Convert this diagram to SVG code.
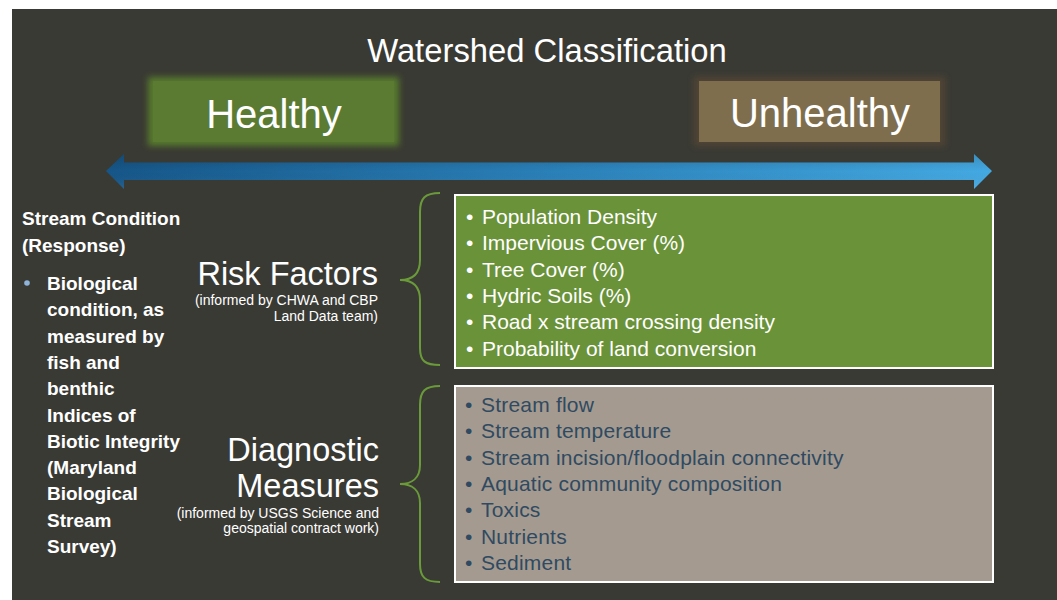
<svg xmlns="http://www.w3.org/2000/svg" width="1057" height="600" viewBox="0 0 1057 600">
<defs>
<style>
.t{font-family:"Liberation Sans",Arial,sans-serif;fill:#fff}
.lb{font-family:"Liberation Sans",Arial,sans-serif;font-weight:bold;font-size:19px;fill:#fff}
.big{font-family:"Liberation Sans",Arial,sans-serif;font-size:32.5px;fill:#fff;text-anchor:end}
.sm{font-family:"Liberation Sans",Arial,sans-serif;font-size:14px;fill:#fff;text-anchor:end}
.gl{font-family:"Liberation Sans",Arial,sans-serif;font-size:21px;fill:#fff}
.bl{font-family:"Liberation Sans",Arial,sans-serif;font-size:21px;fill:#2f4a62;letter-spacing:0.2px}
.brace{fill:none;stroke:#6a9a3a;stroke-width:2}
</style>
<linearGradient id="arrowGrad" x1="0" y1="0" x2="1" y2="0">
<stop offset="0" stop-color="#165688"/>
<stop offset="0.5" stop-color="#2a80b8"/>
<stop offset="1" stop-color="#44a9e2"/>
</linearGradient>
<linearGradient id="arrowShade" x1="0" y1="0" x2="0" y2="1">
<stop offset="0" stop-color="#000" stop-opacity="0.15"/>
<stop offset="0.5" stop-color="#000" stop-opacity="0"/>
<stop offset="1" stop-color="#fff" stop-opacity="0.08"/>
</linearGradient>
<filter id="glowG" x="-20%" y="-40%" width="140%" height="180%">
<feGaussianBlur stdDeviation="3"/>
</filter>
</defs>
<rect x="0" y="0" width="1057" height="600" fill="#fff"/>
<rect x="12" y="9" width="1045" height="591" fill="#3a3a34"/>

<text class="t" x="547" y="62" font-size="32.8" text-anchor="middle">Watershed Classification</text>

<g id="healthy">
<rect x="148" y="77" width="251" height="69" fill="#5d8a2c" opacity="0.8" filter="url(#glowG)"/>
<rect x="153" y="81" width="241" height="61" fill="#5b7b33"/>
<text class="t" x="274" y="128" font-size="40" text-anchor="middle">Healthy</text>
</g>

<g id="unhealthy">
<rect x="694" y="77" width="251" height="69" fill="#5a4a36" opacity="0.7" filter="url(#glowG)"/>
<rect x="699" y="81" width="241" height="61" fill="#7f6e4d"/>
<text class="t" x="820" y="127" font-size="40" text-anchor="middle">Unhealthy</text>
</g>

<g id="scale-arrow">
<path d="M106,171 L124,154 L124,162.5 L974,162.5 L974,154 L992,171 L974,189 L974,180 L124,180 L124,189 Z" fill="url(#arrowGrad)"/>
<path d="M106,171 L124,154 L124,162.5 L974,162.5 L974,154 L992,171 L974,189 L974,180 L124,180 L124,189 Z" fill="url(#arrowShade)"/>
</g>

<g id="stream-condition">
<text class="lb" x="22" y="225">Stream Condition</text>
<text class="lb" x="22" y="252">(Response)</text>
<circle cx="27" cy="283" r="2.8" fill="#8fb4da"/>
<text class="lb" x="47" y="290">Biological</text>
<text class="lb" x="47" y="316.3">condition, as</text>
<text class="lb" x="47" y="342.6">measured by</text>
<text class="lb" x="47" y="368.9">fish and</text>
<text class="lb" x="47" y="395.2">benthic</text>
<text class="lb" x="47" y="421.5">Indices of</text>
<text class="lb" x="47" y="447.8">Biotic Integrity</text>
<text class="lb" x="47" y="474.1">(Maryland</text>
<text class="lb" x="47" y="500.4">Biological</text>
<text class="lb" x="47" y="526.7">Stream</text>
<text class="lb" x="47" y="553">Survey)</text>
</g>

<g id="risk-factors-label">
<text class="big" x="378" y="285">Risk Factors</text>
<text class="sm" x="378" y="305">(informed by CHWA and CBP</text>
<text class="sm" x="378" y="321">Land Data team)</text>
</g>

<g id="diagnostic-label">
<text class="big" x="379" y="461">Diagnostic</text>
<text class="big" x="379" y="497">Measures</text>
<text class="sm" x="379" y="518">(informed by USGS Science and</text>
<text class="sm" x="379" y="533">geospatial contract work)</text>
</g>

<g id="connectors">
<path class="brace" d="M440,193 C425,193 420,198 420,212 L420,260 C420,274 412,280 400,280 C412,280 420,286 420,300 L420,348 C420,361 425,365 440,365"/>
<path class="brace" d="M440,386 C425,386 420,391 420,405 L420,465 C420,478 412,484 400,484 C412,484 420,490 420,503 L420,564 C420,577 425,582 440,582"/>
</g>

<g id="risk-factors-box">
<rect x="455" y="195" width="538" height="173" fill="#6a9239" stroke="#fff" stroke-width="2"/>
<g class="gl">
<text x="466" y="224">•</text><text x="482" y="224">Population Density</text>
<text x="466" y="250.3">•</text><text x="482" y="250.3">Impervious Cover (%)</text>
<text x="466" y="276.6">•</text><text x="482" y="276.6">Tree Cover (%)</text>
<text x="466" y="302.9">•</text><text x="482" y="302.9">Hydric Soils (%)</text>
<text x="466" y="329.2">•</text><text x="482" y="329.2">Road x stream crossing density</text>
<text x="466" y="355.5">•</text><text x="482" y="355.5">Probability of land conversion</text>
</g>
</g>

<g id="diagnostic-box">
<rect x="455" y="386" width="538" height="196" fill="#a59a8f" stroke="#fff" stroke-width="2"/>
<g class="bl">
<text x="465" y="412">•</text><text x="481" y="412">Stream flow</text>
<text x="465" y="438.3">•</text><text x="481" y="438.3">Stream temperature</text>
<text x="465" y="464.6">•</text><text x="481" y="464.6">Stream incision/floodplain connectivity</text>
<text x="465" y="490.9">•</text><text x="481" y="490.9">Aquatic community composition</text>
<text x="465" y="517.2">•</text><text x="481" y="517.2">Toxics</text>
<text x="465" y="543.5">•</text><text x="481" y="543.5">Nutrients</text>
<text x="465" y="569.8">•</text><text x="481" y="569.8">Sediment</text>
</g>
</g>
</svg>
